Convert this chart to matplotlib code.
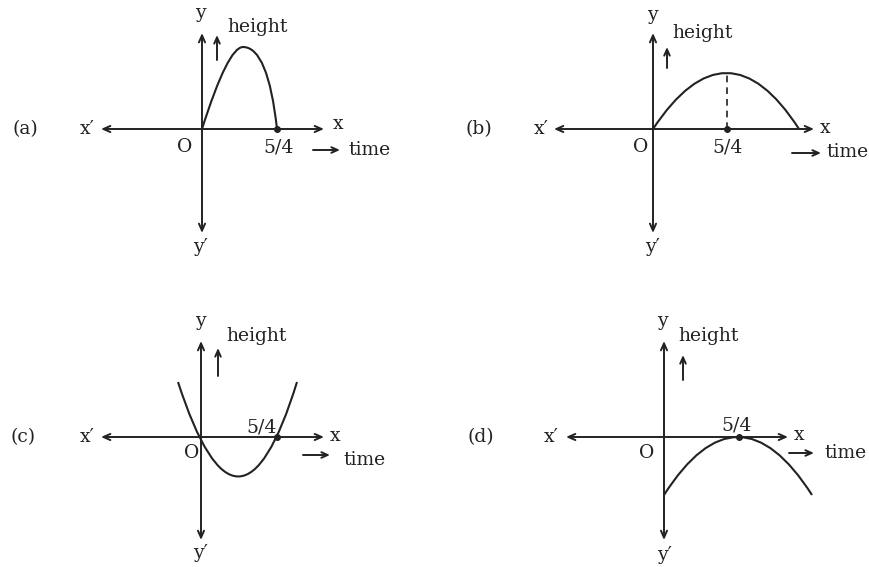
import matplotlib.pyplot as plt
from matplotlib.path import Path
from matplotlib.patches import PathPatch

# panel tags and where each panel's origin sits (pixels, y downward)
tags = ['(a)', '(b)', '(c)', '(d)']
origins = [(202, 129), (653, 129), (201, 437), (664, 437)]

# axis extents relative to origin: left, right, up, down
axis_ext = [(-101, 122, 96, -104), (-99, 161, 96, -104),
            (-100, 123, 96, -103), (-98, 124, 96, -103)]

# curves as chains of quadratic bezier points (local, y up):
# start, then (control, end) pairs
curve_pts = [
    [(0, 0), (26, 82), (41, 82), (66, 82), (75, 0)],
    [(0, 0), (74, 112), (146, 0)],
    [(-23, 55), (38, -134), (96, 55)],
    [(0, -58), (74, 58), (148, -58)],
]
dots = [(75, 0), (74, 0), (76, 0), (75, 0)]
dash_line = [None, ((74, 0), (74, 56)), None, None]

# label positions (local, y up)
tag_pos = [(-177, 0), (-174, 0), (-178, 0), (-183, 0)]
xp_pos = [(-115, 0), (-112, 0), (-114, 0), (-113, 0)]
x_pos = [(136, 5), (172, 1), (134, 1), (135, 2)]
o_pos = [(-17, -18), (-12, -18), (-9, -16), (-17, -16)]
frac_pos = [(77, -19), (75, -19), (61, 10), (73, 12)]
y_pos = [(-2, 116), (-1, 114), (-1, 116), (-2, 116)]
yp_pos = [(-2, -118), (-1, -118), (-1, -116), (0, -118)]
height_pos = [(56, 102), (50, 96), (56, 101), (45, 101)]
up_arrow = [(15, 69, 94), (14, 61, 82), (17, 61, 89), (19, 57, 82)]
time_arrow = [(111, 138, -21), (139, 168, -24), (102, 129, -18), (125, 150, -16)]
time_pos = [(146, -21), (173, -23), (142, -23), (160, -16)]

ink = '#222222'
fs = 13.5
font = 'DejaVu Serif'

fig = plt.figure(figsize=(8.69, 5.67), dpi=100)
ax = fig.add_axes([0, 0, 1, 1])
ax.set_xlim(0, 869)
ax.set_ylim(567, 0)
ax.axis('off')


def to_px(o, p):
    return (o[0] + p[0], o[1] - p[1])


def label(o, p, s, ha='center'):
    x, y = to_px(o, p)
    ax.text(x, y, s, ha=ha, va='center', fontsize=fs, family=font, color=ink)


def arrow(o, p0, p1, style):
    ax.annotate('', xy=to_px(o, p1), xytext=to_px(o, p0),
                arrowprops=dict(arrowstyle=style, color=ink, lw=1.4,
                                shrinkA=0, shrinkB=0))


for i, o in enumerate(origins):
    left, right, up, down = axis_ext[i]
    arrow(o, (left, 0), (right, 0), '<->,head_length=0.5,head_width=0.22')
    arrow(o, (0, down), (0, up), '<->,head_length=0.5,head_width=0.22')

    pts = [to_px(o, p) for p in curve_pts[i]]
    codes = [Path.MOVETO] + [Path.CURVE3] * (len(pts) - 1)
    ax.add_patch(PathPatch(Path(pts, codes), fill=False, ec=ink, lw=1.5))

    dx, dy = to_px(o, dots[i])
    ax.plot(dx, dy, 'o', color=ink, ms=4)
    if dash_line[i] is not None:
        a, b = [to_px(o, p) for p in dash_line[i]]
        ax.plot([a[0], b[0]], [a[1], b[1]], '--', color=ink, lw=1.2,
                dashes=(4, 3))

    label(o, tag_pos[i], tags[i])
    label(o, xp_pos[i], 'x\u2032')
    label(o, x_pos[i], 'x')
    label(o, o_pos[i], 'O')
    label(o, frac_pos[i], '5/4')
    label(o, y_pos[i], 'y')
    label(o, yp_pos[i], 'y\u2032')
    label(o, height_pos[i], 'height')
    ux, uy0, uy1 = up_arrow[i]
    arrow(o, (ux, uy0), (ux, uy1), '->,head_length=0.45,head_width=0.2')
    tx0, tx1, ty = time_arrow[i]
    arrow(o, (tx0, ty), (tx1, ty), '->,head_length=0.45,head_width=0.2')
    label(o, time_pos[i], 'time', ha='left')

fig.savefig('out.png', dpi=100, facecolor='white')
